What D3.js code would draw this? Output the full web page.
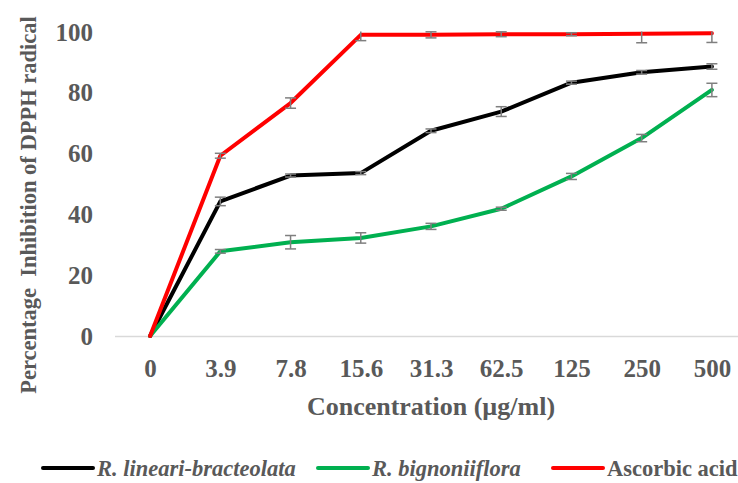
<!DOCTYPE html>
<html>
<head>
<meta charset="utf-8">
<script src="https://cdn.jsdelivr.net/npm/d3@7"></script>
<style>
  body { margin: 0; background: #fff; }
  svg text { font-family: "Liberation Serif", "Times New Roman", serif; font-weight: bold; fill: #595959; }
</style>
</head>
<body>
<div id="chart-div"></div>
<script>
// concentration categories (µg/ml)
var concLabels = ["0", "3.9", "7.8", "15.6", "31.3", "62.5", "125", "250", "500"];
var yTicks = [0, 20, 40, 60, 80, 100];

// percentage inhibition + error
var lineariValues = [0, 44.2, 52.7, 53.5, 67.4, 73.7, 83.2, 86.6, 88.5];
var lineariErr    = [0, 1.4, 0.5, 0.5, 0.6, 1.6, 0.5, 0.6, 0.9];
var bignonValues  = [0, 27.8, 30.8, 32.2, 36.0, 41.8, 52.4, 65.0, 80.8];
var bignonErr     = [0, 0.6, 2.2, 1.7, 1.0, 0.5, 1.0, 1.2, 2.2];
var ascorbicValues = [0, 59.2, 76.5, 98.9, 98.9, 99.1, 99.1, 99.3, 99.4];
var ascorbicErr    = [0, 0.8, 1.7, 1.9, 1.0, 0.8, 0.5, 3.0, 3.0];

var seriesNames = ["R. lineari-bracteolata", "R. bignoniiflora", "Ascorbic acid"];
var seriesItalic = [true, true, false];

var width = 738, height = 483;

var svg = d3.select("#chart-div")
    .append("svg")
    .attr("width", width)
    .attr("height", height);

var series = [
    {name: seriesNames[0], values: lineariValues, err: lineariErr, color: "#000000", italic: seriesItalic[0]},
    {name: seriesNames[1], values: bignonValues, err: bignonErr, color: "#00b050", italic: seriesItalic[1]},
    {name: seriesNames[2], values: ascorbicValues, err: ascorbicErr, color: "#ff0000", italic: seriesItalic[2]}
];

var x = d3.scalePoint()
    .domain(concLabels)
    .range([115, 747])
    .padding(0.5);

var y = d3.scaleLinear()
    .domain([0, 100])
    .range([336, 31.5]);

// y tick labels (no axis line)
var yAxis = d3.axisLeft(y).tickValues(yTicks).tickSize(0).tickPadding(0);
var gy = svg.append("g")
    .attr("transform", "translate(93,0)")
    .call(yAxis);
gy.select(".domain").remove();
gy.selectAll("text")
    .style("font-size", "25px")
    .attr("dy", "0.34em");

// x axis with light grey base line
svg.append("line")
    .attr("x1", 115).attr("x2", 747)
    .attr("y1", y(0) + 0.5).attr("y2", y(0) + 0.5)
    .attr("stroke", "#d9d9d9")
    .attr("stroke-width", 1.5);

var xAxis = d3.axisBottom(x).tickSize(0).tickPadding(0);
var gx = svg.append("g")
    .attr("transform", "translate(0,377)")
    .call(xAxis);
gx.select(".domain").remove();
gx.selectAll("text")
    .style("font-size", "25px")
    .attr("dy", "0");

// axis titles
svg.append("text")
    .attr("x", 431)
    .attr("y", 415)
    .attr("text-anchor", "middle")
    .style("font-size", "26px")
    .text("Concentration (µg/ml)");

svg.append("text")
    .attr("transform", "translate(36,205) rotate(-90)")
    .attr("text-anchor", "middle")
    .style("font-size", "22.5px")
    .style("white-space", "pre")
    .attr("xml:space", "preserve")
    .text("Percentage  Inhibition of DPPH radical");

// lines + error bars
var line = d3.line()
    .x(function(d, i) { return x(concLabels[i]); })
    .y(function(d) { return y(d); });

series.forEach(function(s) {
    svg.append("path")
        .datum(s.values)
        .attr("fill", "none")
        .attr("stroke", s.color)
        .attr("stroke-width", 4)
        .attr("stroke-linejoin", "round")
        .attr("stroke-linecap", "round")
        .attr("d", line);

    var eb = svg.append("g").attr("class", "errbars");
    s.values.forEach(function(v, i) {
        if (!s.err[i]) return;
        var cx = x(concLabels[i]);
        var hi = Math.min(100, v + s.err[i]);
        var lo = Math.max(0, v - s.err[i]);
        eb.append("line")
            .attr("x1", cx).attr("x2", cx)
            .attr("y1", y(hi)).attr("y2", y(lo))
            .attr("stroke", "#7f7f7f").attr("stroke-width", 1.5);
        [hi, lo].forEach(function(e) {
            if (e >= 100) return;
            eb.append("line")
                .attr("x1", cx - 5.5).attr("x2", cx + 5.5)
                .attr("y1", y(e)).attr("y2", y(e))
                .attr("stroke", "#7f7f7f").attr("stroke-width", 1.5);
        });
    });
});

// legend
var legendX = [43, 318, 553];
var legend = svg.append("g").attr("class", "legend");
series.forEach(function(s, i) {
    var lx = legendX[i];
    legend.append("line")
        .attr("x1", lx).attr("x2", lx + 50)
        .attr("y1", 468).attr("y2", 468)
        .attr("stroke", s.color)
        .attr("stroke-width", 4)
        .attr("stroke-linecap", "round");
    legend.append("text")
        .attr("x", lx + 54)
        .attr("y", 476)
        .style("font-size", "22.5px")
        .style("font-style", s.italic ? "italic" : "normal")
        .text(s.name);
});
</script>
</body>
</html>
